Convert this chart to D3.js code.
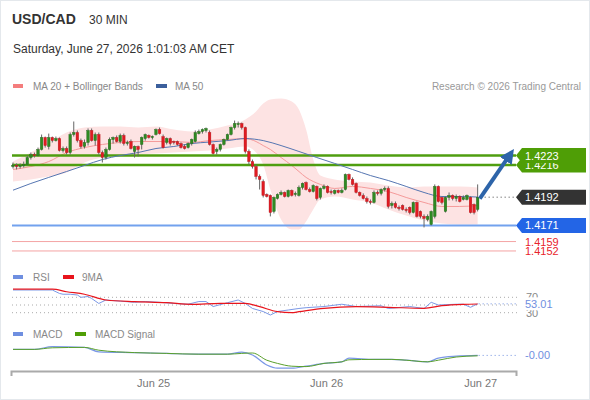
<!DOCTYPE html>
<html>
<head>
<meta charset="utf-8">
<script src="https://cdn.jsdelivr.net/npm/d3@7"></script>
<style>
  body { margin: 0; background: #fff; }
  text { font-family: "Liberation Sans", Arial, sans-serif; }
</style>
</head>
<body>
<div id="chart"></div>
<script>
const W = 590, H = 400;

//--------------------------- DATA (30 min candles, index 0..130)
const opens = [1.42148,1.42156,1.42148,1.42156,1.42163,1.42215,1.42237,1.42230,1.42275,1.42364,
  1.42297,1.42364,1.42341,1.42356,1.42267,1.42282,1.42252,1.42386,1.42401,1.42341,
  1.42297,1.42327,1.42416,1.42341,1.42386,1.42252,1.42215,1.42275,1.42349,1.42364,
  1.42334,1.42379,1.42319,1.42334,1.42260,1.42297,1.42312,1.42356,1.42379,1.42364,
  1.42386,1.42423,1.42371,1.42327,1.42356,1.42334,1.42334,1.42319,1.42297,1.42289,
  1.42319,1.42334,1.42393,1.42408,1.42416,1.42401,1.42312,1.42260,1.42275,1.42312,
  1.42349,1.42386,1.42438,1.42460,1.42468,1.42438,1.42260,1.42185,1.42148,1.42074,
  1.42037,1.41940,1.41933,1.41814,1.41910,1.41940,1.41955,1.41925,1.41970,1.41940,
  1.41933,1.41992,1.42029,1.41977,1.41962,1.42000,1.41918,1.41985,1.42000,1.41962,
  1.41948,1.41970,1.41955,1.41977,1.42089,1.42052,1.42022,1.41955,1.41933,1.41910,
  1.41888,1.41881,1.41955,1.41948,1.41977,1.41985,1.41858,1.41873,1.41844,1.41858,
  1.41829,1.41844,1.41806,1.41881,1.41814,1.41777,1.41754,1.41717,1.41777,1.42000,
  1.41918,1.41814,1.41918,1.41933,1.41910,1.41925,1.41903,1.41903,1.41918,1.41866,
  1.41829];
const highs = [1.42178,1.42171,1.42171,1.42185,1.42230,1.42252,1.42252,1.42289,1.42386,1.42371,
  1.42393,1.42371,1.42371,1.42364,1.42297,1.42297,1.42401,1.42483,1.42416,1.42356,
  1.42349,1.42431,1.42431,1.42401,1.42401,1.42267,1.42289,1.42364,1.42371,1.42379,
  1.42393,1.42393,1.42341,1.42349,1.42304,1.42304,1.42371,1.42393,1.42386,1.42379,
  1.42431,1.42438,1.42386,1.42364,1.42364,1.42341,1.42341,1.42327,1.42312,1.42327,
  1.42356,1.42416,1.42423,1.42431,1.42438,1.42416,1.42319,1.42289,1.42319,1.42356,
  1.42393,1.42445,1.42490,1.42483,1.42475,1.42445,1.42275,1.42200,1.42163,1.42089,
  1.42052,1.41948,1.41940,1.41925,1.41948,1.41970,1.41962,1.41977,1.41977,1.41962,
  1.42007,1.42029,1.42037,1.41992,1.42015,1.42007,1.41992,1.42015,1.42007,1.41977,
  1.41977,1.41977,1.41985,1.42096,1.42096,1.42067,1.42029,1.41962,1.41948,1.41925,
  1.41903,1.41970,1.41970,1.41985,1.42000,1.42000,1.41888,1.41888,1.41858,1.41866,
  1.41844,1.41851,1.41888,1.41888,1.41821,1.41792,1.41792,1.41821,1.42015,1.42007,
  1.41925,1.41925,1.41955,1.41940,1.41940,1.41933,1.41933,1.41940,1.41925,1.41873,
  1.42015];
const lows = [1.42133,1.42126,1.42133,1.42141,1.42156,1.42200,1.42215,1.42223,1.42267,1.42289,
  1.42275,1.42327,1.42334,1.42260,1.42252,1.42237,1.42237,1.42371,1.42327,1.42282,
  1.42282,1.42304,1.42334,1.42304,1.42237,1.42178,1.42200,1.42267,1.42319,1.42327,
  1.42319,1.42304,1.42304,1.42275,1.42215,1.42223,1.42275,1.42341,1.42356,1.42349,
  1.42379,1.42386,1.42282,1.42312,1.42304,1.42312,1.42304,1.42282,1.42275,1.42282,
  1.42304,1.42327,1.42386,1.42393,1.42401,1.42304,1.42237,1.42237,1.42260,1.42304,
  1.42341,1.42379,1.42423,1.42438,1.42423,1.42245,1.42163,1.42133,1.42052,1.41977,
  1.41918,1.41918,1.41777,1.41799,1.41903,1.41933,1.41918,1.41918,1.41925,1.41925,
  1.41925,1.41977,1.41970,1.41955,1.41955,1.41896,1.41903,1.41977,1.41948,1.41940,
  1.41940,1.41948,1.41948,1.41970,1.42044,1.42007,1.41948,1.41925,1.41903,1.41873,
  1.41866,1.41873,1.41933,1.41933,1.41962,1.41836,1.41836,1.41836,1.41821,1.41821,
  1.41806,1.41792,1.41799,1.41769,1.41762,1.41695,1.41740,1.41710,1.41762,1.41881,
  1.41866,1.41806,1.41896,1.41896,1.41888,1.41881,1.41896,1.41896,1.41799,1.41792,
  1.41814];
const closes = [1.42156,1.42148,1.42156,1.42163,1.42215,1.42237,1.42230,1.42275,1.42364,1.42304,
  1.42364,1.42341,1.42356,1.42267,1.42282,1.42252,1.42386,1.42401,1.42341,1.42297,
  1.42327,1.42416,1.42341,1.42386,1.42252,1.42215,1.42275,1.42349,1.42364,1.42334,
  1.42379,1.42319,1.42327,1.42282,1.42297,1.42275,1.42364,1.42386,1.42364,1.42371,
  1.42423,1.42393,1.42289,1.42356,1.42319,1.42327,1.42312,1.42289,1.42282,1.42319,
  1.42349,1.42401,1.42408,1.42423,1.42431,1.42312,1.42245,1.42275,1.42312,1.42349,
  1.42386,1.42438,1.42468,1.42468,1.42438,1.42260,1.42185,1.42148,1.42074,1.42052,
  1.41933,1.41925,1.41806,1.41918,1.41940,1.41955,1.41925,1.41970,1.41933,1.41948,
  1.41992,1.42022,1.41977,1.41962,1.42007,1.41910,1.41985,1.42000,1.41955,1.41955,
  1.41970,1.41955,1.41970,1.42089,1.42052,1.42015,1.41955,1.41933,1.41910,1.41888,
  1.41881,1.41955,1.41948,1.41977,1.41985,1.41851,1.41873,1.41844,1.41836,1.41829,
  1.41821,1.41806,1.41881,1.41777,1.41777,1.41762,1.41777,1.41814,1.42000,1.41888,
  1.41881,1.41918,1.41933,1.41910,1.41925,1.41888,1.41918,1.41933,1.41806,1.41806,
  1.41920];

// MA 20 + Bollinger Bands, MA 50 (sampled at candle index)
const bandIdx = [0,5,10,15,20,25,30,35,40,45,50,55,60,65,68,70,72,75,78,80,82,84,86,90,95,100,105,110,115,120,125,130];
const bbUpper = [1.42185,1.42252,1.42327,1.42401,1.42438,1.42445,1.42445,1.42438,1.42445,1.42423,1.42408,1.42423,1.42453,1.42498,1.42557,1.42616,
  1.42646,1.42654,1.42631,1.42572,1.42423,1.42200,1.42081,1.42052,1.42037,1.42029,1.42007,1.41992,1.42000,1.42000,1.42000,1.41992];
const ma20 = [1.42126,1.42148,1.42185,1.42252,1.42289,1.42312,1.42327,1.42334,1.42334,1.42334,1.42327,1.42341,1.42349,1.42356,1.42334,1.42304,
  1.42275,1.42215,1.42156,1.42111,1.42067,1.42037,1.42015,1.41985,1.42000,1.41985,1.41962,1.41918,1.41881,1.41851,1.41851,1.41858];
const bbLower = [1.42037,1.42052,1.42074,1.42104,1.42178,1.42215,1.42230,1.42237,1.42245,1.42252,1.42260,1.42267,1.42282,1.42297,1.42252,1.42163,
  1.41977,1.41754,1.41680,1.41680,1.41740,1.41829,1.41903,1.41925,1.41903,1.41881,1.41829,1.41784,1.41747,1.41725,1.41717,1.41717];
const ma50Idx = [0,5,10,15,20,25,30,35,40,45,50,55,60,65,70,75,80,85,90,95,100,105,110,115,120,125,130];
const ma50 = [1.41972,1.42022,1.42067,1.42111,1.42156,1.42200,1.42230,1.42252,1.42282,1.42297,1.42319,1.42330,1.42341,1.42356,
  1.42341,1.42304,1.42260,1.42215,1.42171,1.42126,1.42081,1.42044,1.42000,1.41955,1.41925,1.41925,1.41921];

// RSI + 9MA
const rsiIdx = [0,11,13,14,16,18,19,21,22,24,26,30,34,37,41,45,49,52,54,56,60,63,65,67,70,72,74,77,80,82,87,92,96,103,105,111,115,117,119,124,126,128,130];
const rsi = [89,89,80,78,78,76,70,72,67,54,63,60,57,59,57,54,52,59,59,46,56,63,54,41,33,24,33,37,41,43,46,52,46,48,41,46,41,57,50,52,52,44,53.01];
const rsiMaIdx = [0,11,15,20,26,34,43,50,58,65,69,74,78,80,87,96,105,115,120,126,130];
const rsiMa = [91,91,84.5,78,63,58.6,56,51.8,54.4,54.4,45.6,32.6,30,32.6,41.4,45.6,44,41.4,48.2,51.8,52.6];
const rsiLevels = [70, 50, 30];

// MACD
const macdIdx = [0,6,11,20,24,34,43,52,60,64,67,71,74,78,82,87,92,94,101,106,110,116,119,124,130];
const macd = [0.00014,0.00014,0.00021,0.00019,0.00008,0.00006,0.00004,0.00002,0.00002,0.00007,0.00000,-0.00025,-0.00033,
  -0.00033,-0.00028,-0.00021,-0.00017,-0.00008,-0.00011,-0.00011,-0.00013,-0.00017,-0.00008,-0.00003,-0.00001];
const macdSignal = [0.00014,0.00014,0.00018,0.00019,0.00012,0.00006,0.00004,0.00002,0.00002,0.00004,0.00005,-0.00013,-0.00021,
  -0.00028,-0.00029,-0.00021,-0.00017,-0.00012,-0.00011,-0.00011,-0.00013,-0.00017,-0.00013,-0.00005,-0.00002];

// key levels
const resistances = [1.4216, 1.4223];
const lastPrice = 1.4192;
const support = 1.4171;
const pivots = [1.4159, 1.4152];
const arrowFrom = [130.6, 1.4191], arrowTo = [140, 1.4226];

// x axis
const tickPos = [39.2, 87.6, 130.7];
const tickLabels = ["Jun 25", "Jun 26", "Jun 27"];

//--------------------------- SCALES
const x = d3.scaleLinear().domain([-0.56, 140.73]).range([11, 516]);
const y = d3.scaleLinear().domain([1.4149, 1.4268]).range([255, 95]);
const yRsi = d3.scaleLinear().domain([30, 70]).range([312.7, 297.3]);
const yMacd = d3.scaleLinear().domain([-0.0004, 0.0003]).range([371, 343]);
const xL = x(-0.28), xR = x(140.73);

const svg = d3.select("#chart").append("svg")
  .attr("width", W).attr("height", H)
  .attr("viewBox", [0, 0, W, H]);

svg.append("rect").attr("x", 0.5).attr("y", 0.5).attr("width", W - 1).attr("height", H - 1)
  .attr("fill", "#fff").attr("stroke", "#e4e8ec");

//--------------------------- HEADER
svg.append("text").attr("x", 12).attr("y", 24).attr("font-size", 14).attr("font-weight", "bold")
  .attr("fill", "#333").text("USD/CAD");
svg.append("text").attr("x", 89).attr("y", 24).attr("font-size", 12).attr("fill", "#333").text("30 MIN");
svg.append("text").attr("x", 13).attr("y", 53).attr("font-size", 12).attr("fill", "#333")
  .text("Saturday, June 27, 2026 1:01:03 AM CET");

function legend(items, yy) {
  items.forEach(it => {
    svg.append("rect").attr("x", it.x).attr("y", yy - 6).attr("width", it.w).attr("height", 4).attr("fill", it.c);
    svg.append("text").attr("x", it.tx).attr("y", yy).attr("font-size", 10).attr("fill", "#888").text(it.t);
  });
}
legend([{x: 13, w: 10, c: "#f47d7d", tx: 33, t: "MA 20 + Bollinger Bands"},
        {x: 156, w: 11, c: "#3b5f9c", tx: 175, t: "MA 50"}], 90);
svg.append("text").attr("x", 581).attr("y", 90).attr("text-anchor", "end").attr("font-size", 10)
  .attr("fill", "#999").text("Research \u00a9 2026 Trading Central");

//--------------------------- MAIN PANEL
const band = d3.area()
  .x((d, i) => x(bandIdx[i]))
  .y0((d, i) => y(bbLower[i]))
  .y1((d, i) => y(bbUpper[i]))
  .curve(d3.curveMonotoneX);
svg.append("path").datum(bandIdx).attr("d", band).attr("fill", "#fde3e3");

const lineOf = (idx, vals, sy, curve) => d3.line()
  .x((d, i) => x(idx[i])).y((d, i) => sy(vals[i])).curve(curve)(idx);

svg.append("path").attr("d", lineOf(bandIdx, ma20, y, d3.curveMonotoneX))
  .attr("fill", "none").attr("stroke", "#f59a9a").attr("stroke-width", 1);

// horizontal levels
pivots.forEach(p => {
  svg.append("line").attr("x1", xL).attr("x2", xR).attr("y1", y(p)).attr("y2", y(p))
    .attr("stroke", "#f4a4a4").attr("stroke-width", 1);
});
svg.append("line").attr("x1", xL).attr("x2", xR).attr("y1", y(support)).attr("y2", y(support))
  .attr("stroke", "#72a2ee").attr("stroke-width", 2);
resistances.forEach(p => {
  svg.append("line").attr("x1", xL).attr("x2", xR).attr("y1", y(p)).attr("y2", y(p))
    .attr("stroke", "#4f9e10").attr("stroke-width", 2.5);
});

svg.append("path").attr("d", lineOf(ma50Idx, ma50, y, d3.curveMonotoneX))
  .attr("fill", "none").attr("stroke", "#5676b2").attr("stroke-width", 1);

// candles
const candles = svg.append("g");
const bw = 2.6;
closes.forEach((c, i) => {
  const o = opens[i], up = c >= o;
  candles.append("line").attr("x1", x(i)).attr("x2", x(i)).attr("y1", y(highs[i])).attr("y2", y(lows[i]))
    .attr("stroke", "#666").attr("stroke-width", 1);
  const top = y(Math.max(o, c)), bot = y(Math.min(o, c));
  candles.append("rect").attr("x", x(i) - bw / 2).attr("y", top).attr("width", bw)
    .attr("height", Math.max(1, bot - top))
    .attr("fill", up ? "#2f8a22" : "#e01b22")
    .attr("stroke", up ? "#21651a" : "#b3141a").attr("stroke-width", 0.4);
});

// last price dotted line
svg.append("line").attr("x1", x(130) + 3).attr("x2", xR).attr("y1", y(lastPrice)).attr("y2", y(lastPrice))
  .attr("stroke", "#444").attr("stroke-dasharray", "1,3");

// arrow
svg.append("defs").append("marker").attr("id", "head")
  .attr("viewBox", "0 0 10 10").attr("refX", 2).attr("refY", 5)
  .attr("markerWidth", 3.6).attr("markerHeight", 3.6).attr("orient", "auto")
  .append("path").attr("d", "M0,0L10,5L0,10Z").attr("fill", "#2d64a9");
svg.append("line")
  .attr("x1", x(arrowFrom[0])).attr("y1", y(arrowFrom[1]))
  .attr("x2", x(arrowTo[0]) - 6).attr("y2", y(arrowTo[1]) + 7)
  .attr("stroke", "#2d64a9").attr("stroke-width", 4).attr("marker-end", "url(#head)");

// price tags
function tag(p, fill, txtColor) {
  const yc = y(p), h = 7.5;
  svg.append("path")
    .attr("d", `M${xR},${yc}L${xR + 6},${yc - h}L586,${yc - h}L586,${yc + h}L${xR + 6},${yc + h}Z`)
    .attr("fill", fill);
  svg.append("text").attr("x", 525).attr("y", yc + 4).attr("font-size", 11)
    .attr("fill", txtColor).text(p.toFixed(4));
}
tag(resistances[0], "#4f9e06", "#fff");
tag(resistances[1], "#4f9e06", "#fff");
tag(lastPrice, "#333", "#fff");
tag(support, "#2365e6", "#fff");
pivots.forEach(p => {
  svg.append("text").attr("x", 525).attr("y", y(p) + 4).attr("font-size", 11)
    .attr("fill", "#e8232b").text(p.toFixed(4));
});

//--------------------------- RSI PANEL
legend([{x: 13, w: 10, c: "#6f8fe0", tx: 33, t: "RSI"},
        {x: 63, w: 11, c: "#e8141c", tx: 82, t: "9MA"}], 281);
rsiLevels.forEach(v => {
  svg.append("line").attr("x1", 12).attr("x2", 517).attr("y1", yRsi(v)).attr("y2", yRsi(v))
    .attr("stroke", "#aaa").attr("stroke-dasharray", "1,3");
});
svg.append("path").attr("d", lineOf(rsiIdx, rsi, yRsi, d3.curveLinear))
  .attr("fill", "none").attr("stroke", "#7b98e6").attr("stroke-width", 1);
svg.append("path").attr("d", lineOf(rsiMaIdx, rsiMa, yRsi, d3.curveMonotoneX))
  .attr("fill", "none").attr("stroke", "#e8141c").attr("stroke-width", 1.2);
const rsiLast = rsi[rsi.length - 1];
svg.append("line").attr("x1", x(130) + 1).attr("x2", 517).attr("y1", yRsi(rsiLast)).attr("y2", yRsi(rsiLast))
  .attr("stroke", "#6f8fe0").attr("stroke-dasharray", "1,3");
[70, 30].forEach(v => {
  svg.append("text").attr("x", 526).attr("y", yRsi(v) + 4).attr("font-size", 11).attr("fill", "#888").text(v);
});
svg.append("rect").attr("x", 521).attr("y", yRsi(rsiLast) - 6.5).attr("width", 40).attr("height", 13).attr("fill", "#fff");
svg.append("text").attr("x", 525).attr("y", yRsi(rsiLast) + 4).attr("font-size", 11)
  .attr("fill", "#6f8fe0").text(rsiLast.toFixed(2));

//--------------------------- MACD PANEL
legend([{x: 13, w: 10, c: "#6f8fe0", tx: 33, t: "MACD"},
        {x: 75, w: 11, c: "#4f9e06", tx: 95, t: "MACD Signal"}], 338);
svg.append("path").attr("d", lineOf(macdIdx, macd, yMacd, d3.curveMonotoneX))
  .attr("fill", "none").attr("stroke", "#7b98e6").attr("stroke-width", 1.2);
svg.append("path").attr("d", lineOf(macdIdx, macdSignal, yMacd, d3.curveMonotoneX))
  .attr("fill", "none").attr("stroke", "#5aa02c").attr("stroke-width", 1);
const macdLast = macd[macd.length - 1];
svg.append("line").attr("x1", x(130) + 1).attr("x2", 517).attr("y1", yMacd(macdLast)).attr("y2", yMacd(macdLast))
  .attr("stroke", "#6f8fe0").attr("stroke-dasharray", "1,3");
svg.append("text").attr("x", 525).attr("y", yMacd(macdLast) + 4).attr("font-size", 11)
  .attr("fill", "#6f8fe0").text("-" + Math.abs(macdLast).toFixed(2));

//--------------------------- X AXIS
const xAxis = svg.append("g").attr("transform", "translate(0,371)")
  .call(d3.axisBottom(x).tickValues(tickPos).tickFormat((d, i) => tickLabels[i])
    .tickSizeInner(0).tickSizeOuter(5).tickPadding(8));
xAxis.attr("font-family", null).attr("font-size", null);
xAxis.select(".domain").attr("stroke", "#aaa").attr("stroke-width", 2);
xAxis.selectAll("text").attr("font-size", 11).attr("fill", "#777");
</script>
</body>
</html>
